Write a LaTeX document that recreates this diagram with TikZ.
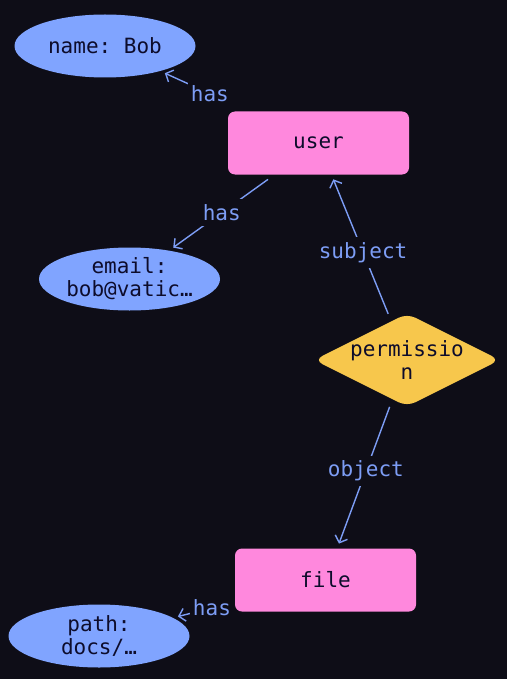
\documentclass[tikz,border=0pt]{standalone}
\usepackage{fontspec}
\setmonofont{DejaVu Sans Mono}
\usepackage{xcolor}
\usepackage{tikz}
\usetikzlibrary{shapes.geometric, arrows, arrows.meta}
\definecolor{bgdark}{HTML}{0E0D17}
\definecolor{attrblue}{HTML}{80A4FF}
\definecolor{entpink}{HTML}{FF88DD}
\definecolor{relyellow}{HTML}{F7C74C}
\definecolor{edgeblue}{HTML}{7D9DF5}
\definecolor{inkdark}{HTML}{0D0C2B}
\tikzstyle{attr} = [ellipse, minimum width=181pt, minimum height=63pt, inner sep=0pt, fill=attrblue, text=inkdark, align=center, font={\ttfamily\fontsize{21}{23}\selectfont}]
\tikzstyle{entity} = [rectangle, rounded corners=7pt, minimum width=181pt, minimum height=63pt, fill=entpink, text=inkdark, font={\ttfamily\fontsize{21}{23}\selectfont}]
\tikzstyle{relation} = [diamond, aspect=2, rounded corners=9pt, minimum width=184pt, minimum height=93pt, inner sep=-1pt, fill=relyellow, text=inkdark, align=center, font={\ttfamily\fontsize{21}{23}\selectfont}]
\tikzstyle{link} = [draw=edgeblue, line width=1.4pt, -{Straight Barb[length=6pt, width=13pt]}, shorten <=8pt, shorten >=5pt]
\tikzstyle{lbl} = [fill=bgdark, text=edgeblue, inner xsep=3pt, inner ysep=5pt, font={\ttfamily\fontsize{21}{23}\selectfont}]

\begin{document}
\begin{tikzpicture}[x=1pt, y=-1pt]
   \fill [bgdark] (0,0) rectangle (507,679);
   \useasboundingbox (0,0) rectangle (507,679);
   \node (nm) [attr] at (105,46) {name: Bob};
   \node (usr) [entity] at (318.5,143) {user};
   \node (mail) [attr] at (129.5,279) {email:\\bob@vatic…};
   \node (perm) [relation] at (407,360) {permissio\\n};
   \node (fl) [entity] at (325.5,580) {file};
   \node (pth) [attr] at (99,636) {path:\\docs/…};
   \draw [link, shorten <=24pt] (usr) -- node[lbl, pos=0.44] {has} (nm);
   \draw [link] (usr) -- node[lbl] {has} (mail);
   \draw [link] (perm) -- node[lbl, pos=0.47] {subject} (usr);
   \draw [link] (perm) -- node[lbl, pos=0.48] {object} (fl);
   \draw [link] (fl) -- node[lbl, pos=0.37] {has} (pth);
\end{tikzpicture}
\end{document}
